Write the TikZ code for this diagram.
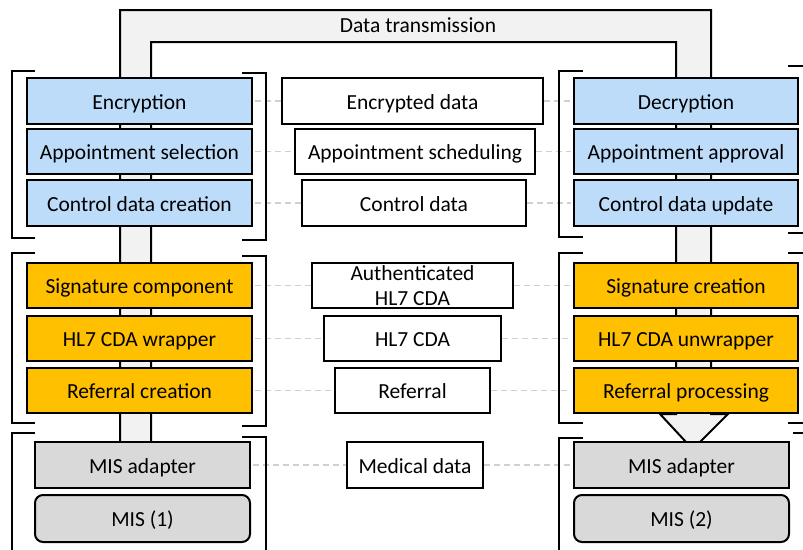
\documentclass[tikz,border=0pt]{standalone}
\usepackage{fontspec}
\setmainfont{Carlito}
\definecolor{bluefill}{HTML}{BDDCFA}
\definecolor{orangefill}{HTML}{FFC000}
\definecolor{grayfill}{HTML}{D9D9D9}
\definecolor{pipefill}{HTML}{F2F2F2}
\definecolor{dashgray}{HTML}{D0D0D0}
\tikzset{
  basebox/.style={draw=black, line width=2pt, inner sep=0pt, font=\fontsize{21.5}{25}\selectfont, align=center},
  box/.style={basebox, text height=18pt, text depth=2pt},
  bluebox/.style={box, fill=bluefill},
  orangebox/.style={box, fill=orangefill},
  graybox/.style={box, fill=grayfill},
  misbox/.style={box, fill=grayfill, rounded corners=8pt},
  databox/.style={box, fill=white},
  twolinebox/.style={basebox, fill=white},
  link/.style={draw=dashgray, line width=1.8pt, dash pattern=on 6pt off 4pt},
  brk/.style={draw=black, line width=2pt},
}
\begin{document}
\begin{tikzpicture}[x=1pt, y=-1pt]
\useasboundingbox (0,0) rectangle (803,549);
\clip (0,0) rectangle (803,549);
% pipe
\draw[fill=pipefill, line width=2pt, line join=miter]
  (120,442) -- (120,10) -- (711,10) -- (711,414) -- (728,414) -- (700,442)
  -- (686,442) -- (660,414) -- (676,414) -- (676,42) -- (151,42) -- (151,442) -- cycle;
\node[font=\fontsize{21.5}{25}\selectfont] (dt) at (418,25) {Data transmission};
% left column
\node[bluebox, minimum width=225pt, minimum height=46pt] (enc) at (139.5,101) {Encryption};
\node[bluebox, minimum width=225pt, minimum height=45pt] (aps) at (139.5,151.5) {Appointment selection};
\node[bluebox, minimum width=225pt, minimum height=46pt] (cdc) at (139.5,203) {Control data creation};
\node[orangebox, minimum width=225pt, minimum height=45pt] (sig) at (139.5,285.5) {Signature component};
\node[orangebox, minimum width=225pt, minimum height=45pt] (wrp) at (139.5,338.5) {HL7 CDA wrapper};
\node[orangebox, minimum width=225pt, minimum height=45pt] (ref) at (139.5,390.5) {Referral creation};
\node[graybox, minimum width=215pt, minimum height=46pt] (misa1) at (142.5,465) {MIS adapter};
\node[misbox, minimum width=215pt, minimum height=47pt] (mis1) at (142.5,518.5) {MIS (1)};
% right column
\node[bluebox, minimum width=224pt, minimum height=46pt] (dec) at (686,101) {Decryption};
\node[bluebox, minimum width=224pt, minimum height=45pt] (apa) at (686,151.5) {Appointment approval};
\node[bluebox, minimum width=224pt, minimum height=46pt] (cdu) at (686,203) {Control data update};
\node[orangebox, minimum width=224pt, minimum height=45pt] (sgc) at (686,285.5) {Signature creation};
\node[orangebox, minimum width=224pt, minimum height=45pt] (unw) at (686,338.5) {HL7 CDA unwrapper};
\node[orangebox, minimum width=224pt, minimum height=45pt] (rfp) at (686,390.5) {Referral processing};
\node[graybox, minimum width=215pt, minimum height=46pt] (misa2) at (681.5,465) {MIS adapter};
\node[misbox, minimum width=215pt, minimum height=47pt] (mis2) at (681.5,518.5) {MIS (2)};
% middle column
\node[databox, minimum width=261pt, minimum height=46pt] (ed) at (412.5,101) {Encrypted data};
\node[databox, minimum width=240pt, minimum height=45pt] (as) at (415,151.5) {Appointment scheduling};
\node[databox, minimum width=224pt, minimum height=46pt] (cd) at (414,203) {Control data};
\node[twolinebox, minimum width=201pt, minimum height=45pt] (ah) at (412.5,285.5) {Authenticated\\HL7 CDA};
\node[databox, minimum width=177pt, minimum height=45pt] (hl) at (412.5,338.5) {HL7 CDA};
\node[databox, minimum width=155pt, minimum height=45pt] (rf) at (412.5,390.5) {Referral};
\node[databox, minimum width=136pt, minimum height=46pt] (md) at (415,465) {Medical data};
% dashed links
\foreach \a/\b/\c in {enc/ed/dec, aps/as/apa, cdc/cd/cdu, sig/ah/sgc, wrp/hl/unw, ref/rf/rfp, misa1/md/misa2}{
  \draw[link] (\a.east) ++(2pt,0) -- (\b.west);
  \draw[link] (\b.east) -- ([xshift=-2pt]\c.west);
}
% brackets left column
\draw[brk] (35,71) -- (12,71) -- (12,238) -- (35,238);
\draw[brk] (242,73) -- (266,73) -- (266,240) -- (242,240);
\draw[brk] (35,253) -- (12,253) -- (12,423) -- (35,423);
\draw[brk] (242,256) -- (266,256) -- (266,426) -- (242,426);
\draw[brk] (35,433) -- (12,433) -- (12,560);
\draw[brk] (242,437) -- (266,437) -- (266,560);
% brackets right column
\draw[brk] (583,71) -- (559,71) -- (559,237) -- (583,237);
\draw[brk] (788,66) -- (812,66) -- (812,233) -- (788,233);
\draw[brk] (583,253) -- (559,253) -- (559,423) -- (583,423);
\draw[brk] (788,253) -- (812,253) -- (812,423) -- (788,423);
\draw[brk] (583,438) -- (559,438) -- (559,560);
\draw[brk] (793,433) -- (812,433) -- (812,560);
\end{tikzpicture}
\end{document}
